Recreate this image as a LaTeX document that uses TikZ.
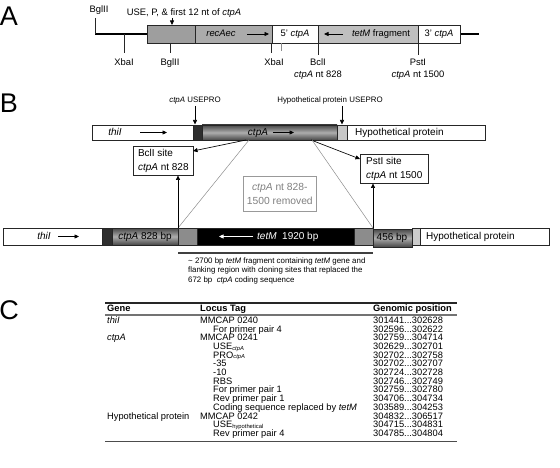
\documentclass[tikz,border=0pt]{standalone}
\usepackage{fontspec}
\setmainfont{Liberation Sans}
\usetikzlibrary{arrows.meta}
\newcommand{\mysubtext}[1]{\raisebox{-0.6pt}{\fontsize{5.8}{6}\selectfont #1}}
\begin{document}
\begin{tikzpicture}[x=1pt,y=-1pt,
 seg/.style={draw=black!85, line width=0.6pt},
 tick/.style={draw=black!85, line width=0.6pt},
 lab/.style={font=\fontsize{9.4}{11}\selectfont, inner sep=0pt, text height=6.8pt, text depth=1.9pt},
 lab7/.style={font=\fontsize{7.9}{9.4}\selectfont, inner sep=0pt, text height=5.7pt, text depth=1.6pt},
 boxlab/.style={font=\fontsize{10}{12}\selectfont, inner sep=0pt, text height=7.2pt, text depth=2pt},
 tab/.style={font=\fontsize{9.3}{10}\selectfont, inner sep=0pt, anchor=base west},
 tabh/.style={tab, font=\fontsize{9.3}{10}\selectfont\bfseries},
 big/.style={font=\fontsize{27}{27}\selectfont, inner sep=0pt},
 arr/.style={-{Triangle[length=4.5pt,width=4pt]}, line width=0.65pt},
 sitebox/.style={draw=black!85, line width=0.6pt, font=\fontsize{10}{13.5}\selectfont, align=left, inner sep=3pt, anchor=north west},
 ctpgrad/.style={top color=black!72, bottom color=black!72, middle color=black!32},
]
\useasboundingbox (0,0) rectangle (560,468);

% ---------------- Panel A ----------------
\node[big] (labA) at (9,16) {A};
\coordinate (aL0) at (95,34); \coordinate (aL1) at (147,34);
\coordinate (aR0) at (460,34); \coordinate (aR1) at (479,34);
\draw[line width=2.6pt] (aL0) -- (aL1);
\draw[line width=2.6pt] (aR0) -- (aR1);
\draw[seg, fill=black!38] (147,25) rectangle (195,43);
\draw[seg, fill=black!33] (195,25) rectangle (272,43);
\draw[seg, fill=white] (272,25) rectangle (318,43);
\draw[seg, fill=black!25] (318,25) rectangle (418,43);
\draw[seg, fill=white] (418,25) rectangle (460,43);

\node[lab] (bg1) at (99,10) {BglII};
\coordinate (bg1t) at (95,18);
\draw[tick] (bg1t) -- (aL0);
\coordinate (xb1a) at (124,34); \coordinate (xb1b) at (124,53);
\draw[tick] (xb1a) -- (xb1b);
\node[lab] (xb1) at (124,63) {XbaI};
\coordinate (bg2a) at (170,43); \coordinate (bg2b) at (170,53);
\draw[tick] (bg2a) -- (bg2b);
\node[lab] (bg2) at (170,63) {BglII};
\coordinate (xb2a) at (271,43); \coordinate (xb2b) at (271,53);
\draw[tick] (xb2a) -- (xb2b);
\coordinate (xb3a) at (281,43); \coordinate (xb3b) at (281,51);
\draw[tick, draw=black!45] (xb3a) -- (xb3b);
\node[lab] (xb2) at (274,63) {XbaI};
\coordinate (bcAa) at (318,43); \coordinate (bcAb) at (318,55);
\draw[tick] (bcAa) -- (bcAb);
\node[lab] (bcA) at (318,63) {BclI};
\node[lab] (bcA2) at (318,75) {\textit{ctpA} nt 828};
\coordinate (psAa) at (418,43); \coordinate (psAb) at (418,55);
\draw[tick] (psAa) -- (psAb);
\node[lab] (psA) at (418,63) {PstI};
\node[lab] (psA2) at (418,75) {\textit{ctpA} nt 1500};

\node[lab] (use) at (184,13) {USE, P, \& first 12 nt of \textit{ctpA}};
\coordinate (useT) at (172,25); \coordinate (useS) at (172,18);
\draw[arr] (useS) -- (useT);

\node[lab] (recA) at (221,34) {\textit{recAec}};
\coordinate (rA0) at (247,34); \coordinate (rA1) at (269,34);
\draw[arr] (rA0) -- (rA1);
\node[lab] (c5) at (295,34) {5' \textit{ctpA}};
\coordinate (tA0) at (343,34); \coordinate (tA1) at (324,34);
\draw[arr] (tA0) -- (tA1);
\node[lab] (tfr) at (381,34) {\textit{tetM} fragment};
\node[lab] (c3) at (439,34) {3' \textit{ctpA}};

% ---------------- Panel B ----------------
\node[big] (labB) at (9,103) {B};
\draw[seg, fill=white] (92,125) rectangle (193,140);
\draw[seg, fill=black!82] (193,125) rectangle (202,140);
\draw[seg, ctpgrad] (202,125) rectangle (337,140);
\draw[seg, fill=black!22] (337,125) rectangle (347,140);
\draw[seg, fill=white] (347,125) rectangle (485,140);

\node[boxlab] (thi1) at (115,132.5) {\textit{thiI}};
\coordinate (th1a) at (140,132.5); \coordinate (th1b) at (167,132.5);
\draw[arr] (th1a) -- (th1b);
\node[boxlab] (ctp1) at (258,132.5) {\textit{ctpA}};
\coordinate (ct1a) at (273,132.5); \coordinate (ct1b) at (294,132.5);
\draw[arr] (ct1a) -- (ct1b);
\node[boxlab, anchor=west] (hyp1) at (355,132.5) {Hypothetical protein};

\node[lab7] (usepro1) at (195,100) {\textit{ctpA} USEPRO};
\coordinate (up1a) at (195,106); \coordinate (up1b) at (195,124.5);
\draw[arr] (up1a) -- (up1b);
\node[lab7] (usepro2) at (330,100) {Hypothetical protein USEPRO};
\coordinate (up2a) at (342,106); \coordinate (up2b) at (342,124.5);
\draw[arr] (up2a) -- (up2b);

% bottom construct
\draw[seg, fill=white] (3,228) rectangle (102,245);
\draw[seg, fill=black!82] (102,228) rectangle (112,245);
\draw[seg, ctpgrad] (112,228) rectangle (178,245);
\draw[seg, fill=black!45] (178,228) rectangle (197,245);
\draw[seg, fill=black] (197,228) rectangle (354,245);
\draw[seg, fill=black!45] (354,228) rectangle (373,245);
\draw[seg, ctpgrad] (373,229) rectangle (412,247);
\draw[seg, fill=black!20] (412,228) rectangle (420,245);
\draw[seg, fill=white] (420,228) rectangle (549,245);

\node[boxlab] (thi2) at (44,236.5) {\textit{thiI}};
\coordinate (th2a) at (58,236.5); \coordinate (th2b) at (79,236.5);
\draw[arr] (th2a) -- (th2b);
\node[boxlab] (ctp2) at (145,236.5) {\textit{ctpA} 828 bp};
\coordinate (tt0) at (253,236.5); \coordinate (tt1) at (219,236.5);
\draw[arr, draw=white, fill=white] (tt0) -- (tt1);
\node[boxlab, text=white, anchor=west] (tet2) at (257,236.5) {\textit{tetM}\ \ 1920 bp};
\node[boxlab] (b456) at (392,237.5) {456 bp};
\node[boxlab, anchor=west] (hyp2) at (426,236.5) {Hypothetical protein};

% site boxes
\node[sitebox, minimum width=60pt, minimum height=28pt] (bcl) at (133,146) {BclI site\\\textit{ctpA} nt 828};
\node[sitebox, minimum width=68pt, minimum height=28pt] (pst) at (360,154) {PstI site\\\textit{ctpA} nt 1500};
\node[draw=black!40, line width=0.6pt, text=black!50, font=\fontsize{10.3}{14}\selectfont, align=center, minimum width=73pt, minimum height=35pt, inner sep=1pt, anchor=north west] (rem) at (243,176) {\textit{ctpA} nt 828-\\1500 removed};

\coordinate (ctL) at (246,140); \coordinate (ctR) at (311,140);
\coordinate (bclT) at (193,151); \coordinate (pstT) at (360,159);
\draw[arr] (ctL) -- (bclT);
\draw[arr] (ctR) -- (pstT);
\coordinate (gl0) at (249,140); \coordinate (gl1) at (178,228);
\coordinate (gr0) at (312,140); \coordinate (gr1) at (373,228);
\draw[black!45, line width=0.5pt] (gl0) -- (gl1);
\draw[black!45, line width=0.5pt] (gr0) -- (gr1);
\draw[arr] (gl1) -- (bcl.south -| gl1);
\draw[arr] (gr1) -- (pst.south -| gr1);

\coordinate (ul0) at (178,253); \coordinate (ul1) at (373,253);
\draw[line width=1.5pt, black!75] (ul0) -- (ul1);
\node[anchor=north west, align=left, inner sep=0pt, font=\fontsize{7.9}{9.4}\selectfont] (cap) at (188,257.5) {\textasciitilde\ 2700 bp \textit{tetM} fragment containing \textit{tetM} gene and\\flanking region with cloning sites that replaced the\\672 bp\ \ \textit{ctpA} coding sequence};

% ---------------- Panel C ----------------
\node[big] (labC) at (9,310) {C};
\coordinate (r0a) at (105,303); \coordinate (r0b) at (457,303);
\draw[line width=1.1pt, black!85] (r0a) -- (r0b);
\node[tabh] (hg) at (107,311.8) {Gene};
\node[tabh] (hl) at (200,311.8) {Locus Tag};
\node[tabh] (hp) at (373,311.8) {Genomic position};
\coordinate (r1a) at (105,314.8); \coordinate (r1b) at (457,314.8);
\draw[line width=1.4pt, black!55] (r1a) -- (r1b);

\node[tab] (g1) at (107,323.3) {\textit{thiI}};
\node[tab] (l1) at (200,323.3) {MMCAP 0240};
\node[tab] (p1) at (373,323.3) {301441...302628};
\node[tab] (l2) at (213,332) {For primer pair 4};
\node[tab] (p2) at (373,332) {302596...302622};
\node[tab] (g3) at (107,340.7) {\textit{ctpA}};
\node[tab] (l3) at (200,340.7) {MMCAP 0241};
\node[tab] (p3) at (373,340.7) {302759...304714};
\node[tab] (l4) at (213,349.4) {USE\mysubtext{\textit{ctpA}}};
\node[tab] (p4) at (373,349.4) {302629...302701};
\node[tab] (l5) at (213,358.1) {PRO\mysubtext{\textit{ctpA}}};
\node[tab] (p5) at (373,358.1) {302702...302758};
\node[tab] (l6) at (213,366.8) {-35};
\node[tab] (p6) at (373,366.8) {302702...302707};
\node[tab] (l7) at (213,375.5) {-10};
\node[tab] (p7) at (373,375.5) {302724...302728};
\node[tab] (l8) at (213,384.2) {RBS};
\node[tab] (p8) at (373,384.2) {302746...302749};
\node[tab] (l9) at (213,392.9) {For primer pair 1};
\node[tab] (p9) at (373,392.9) {302759...302780};
\node[tab] (l10) at (213,401.6) {Rev primer pair 1};
\node[tab] (p10) at (373,401.6) {304706...304734};
\node[tab] (l11) at (213,410.3) {Coding sequence replaced by \textit{tetM}};
\node[tab] (p11) at (373,410.3) {303589...304253};
\node[tab] (g12) at (107,419) {Hypothetical protein};
\node[tab] (l12) at (200,419) {MMCAP 0242};
\node[tab] (p12) at (373,419) {304832...306517};
\node[tab] (l13) at (213,427.7) {USE\mysubtext{hypothetical}};
\node[tab] (p13) at (373,427.7) {304715...304831};
\node[tab] (l14) at (213,436.6) {Rev primer pair 4};
\node[tab] (p14) at (373,436.6) {304785...304804};
\coordinate (r2a) at (105,441.5); \coordinate (r2b) at (457,441.5);
\draw[line width=1.3pt, black!70] (r2a) -- (r2b);
\end{tikzpicture}
\end{document}
